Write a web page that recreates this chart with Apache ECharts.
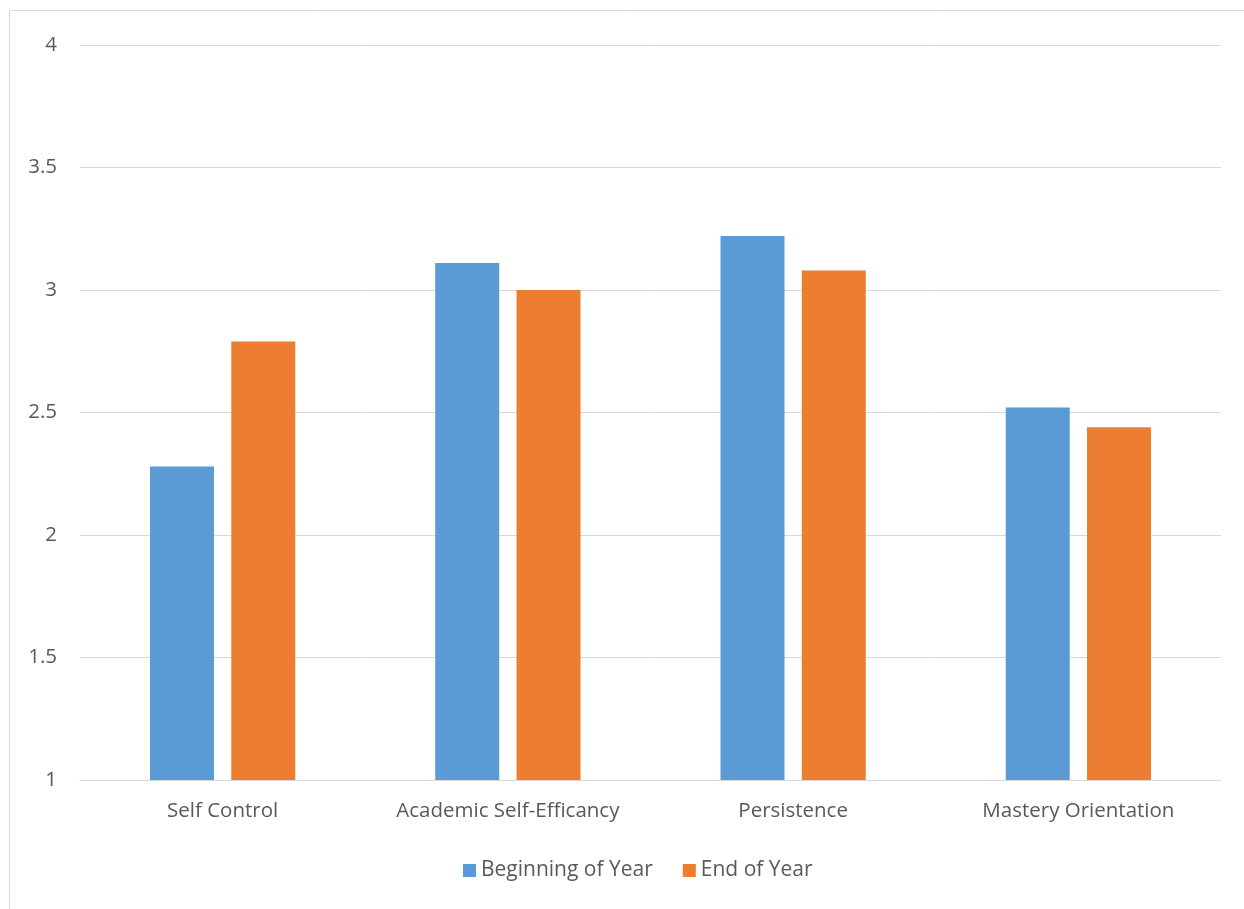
<!DOCTYPE html>
<html>
<head>
<meta charset="utf-8">
<script src="https://cdn.jsdelivr.net/npm/echarts@6/dist/echarts.min.js"></script>
<style>
  html, body { margin: 0; padding: 0; background: #fff; }
  #chart { width: 1244px; height: 909px; }
</style>
</head>
<body>
<div id="chart"></div>
<script>
// Survey scale means by construct
const categories = ['Self Control', 'Academic Self-Efficancy', 'Persistence', 'Mastery Orientation'];
const beginningOfYear = [2.28, 3.11, 3.22, 2.52];
const endOfYear = [2.79, 3.00, 3.08, 2.44];
const seriesNames = ['Beginning of Year', 'End of Year'];

const textColor = '#595959';
const fontFamily = '"Open Sans", "Noto Sans", sans-serif';

const chart = echarts.init(document.getElementById('chart'));
chart.setOption({
  animation: false,
  textStyle: { fontFamily: fontFamily },
  graphic: [{
    type: 'rect',
    shape: { x: 9.5, y: 10.5, width: 1400, height: 1000 },
    style: { fill: 'none', stroke: '#d9d9d9', lineWidth: 1 },
    silent: true,
    z: -1
  }],
  grid: { left: 80, right: 23, top: 45, bottom: 129, containLabel: false },
  legend: {
    top: 855,
    left: 458,
    itemWidth: 13,
    itemHeight: 13,
    itemGap: 30,
    icon: 'rect',
    textStyle: { color: textColor, fontSize: 21, fontFamily: fontFamily, padding: [0, 0, 0, 0] },
    data: seriesNames
  },
  xAxis: {
    type: 'category',
    data: categories,
    axisLine: { lineStyle: { color: '#d9d9d9', width: 1 } },
    axisTick: { show: false },
    axisLabel: { color: textColor, fontSize: 20.5, margin: 21, interval: 0, fontFamily: fontFamily }
  },
  yAxis: {
    type: 'value',
    min: 1,
    max: 4,
    interval: 0.5,
    axisLine: { show: false },
    axisTick: { show: false },
    splitLine: { lineStyle: { color: '#d9d9d9', width: 1 } },
    axisLabel: { color: textColor, fontSize: 20.5, margin: 23, fontFamily: fontFamily }
  },
  series: [
    {
      name: seriesNames[0],
      type: 'bar',
      data: beginningOfYear,
      barWidth: 64,
      barGap: '27%',
      itemStyle: { color: '#5B9BD5' }
    },
    {
      name: seriesNames[1],
      type: 'bar',
      data: endOfYear,
      barWidth: 64,
      barGap: '27%',
      itemStyle: { color: '#ED7D31' }
    }
  ]
});
</script>
</body>
</html>
